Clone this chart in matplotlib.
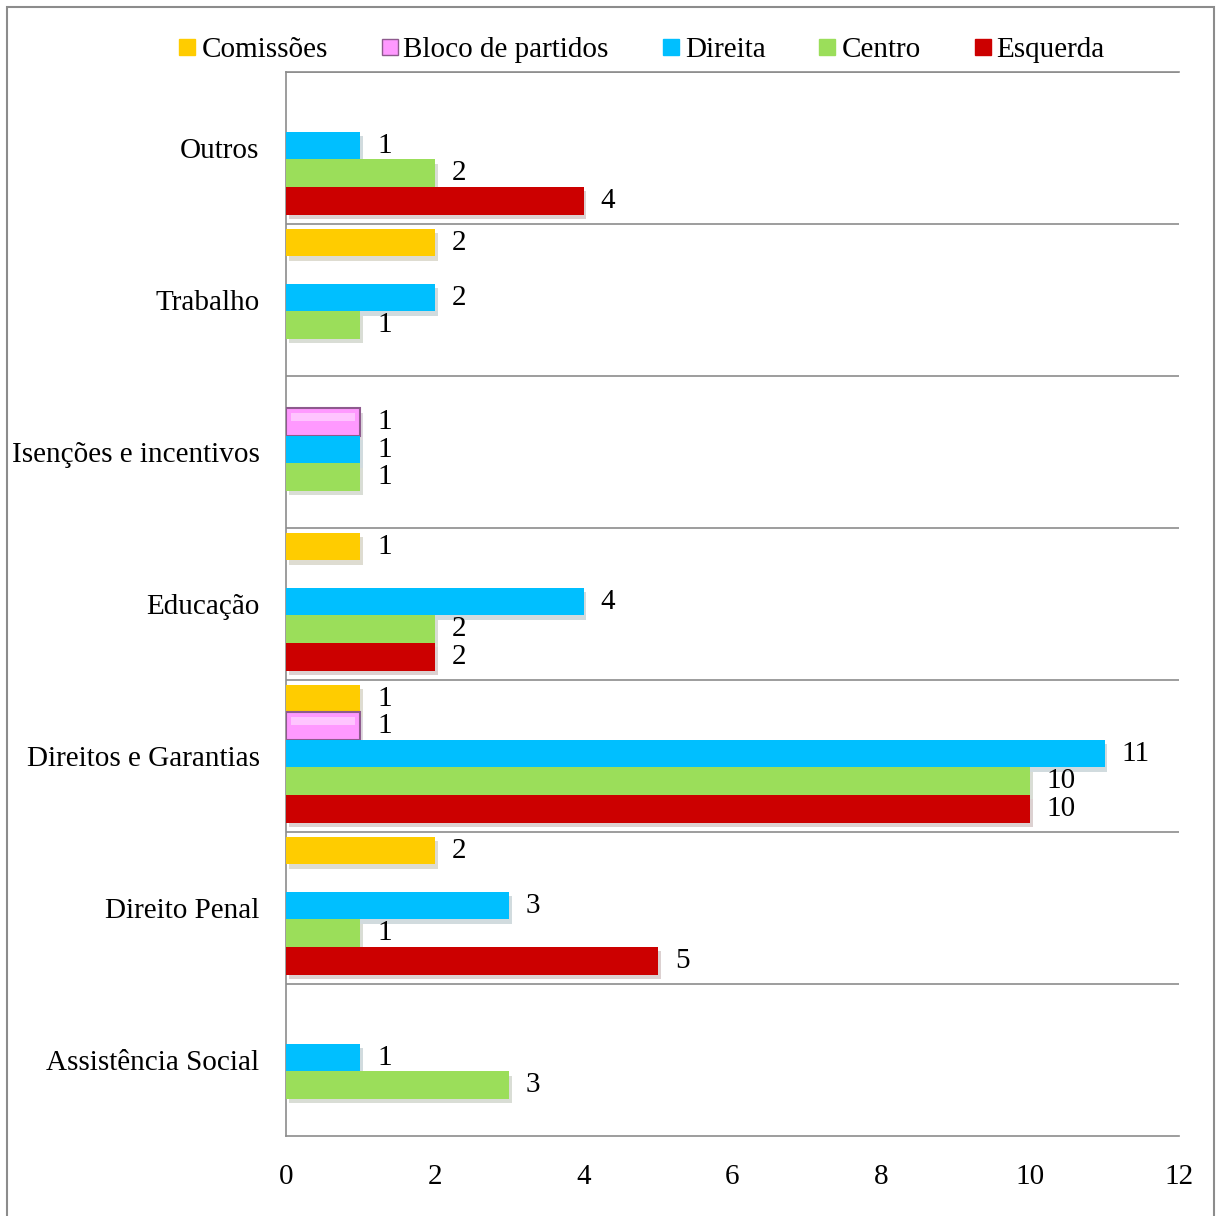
import matplotlib
matplotlib.use('Agg')
import matplotlib.pyplot as plt
import matplotlib.patheffects as pe
from matplotlib.patches import Rectangle
from matplotlib.lines import Line2D
import numpy as np

plt.rcParams['font.family'] = ['Liberation Serif', 'DejaVu Serif']

# categories from bottom to top
categories = ['Assistência Social', 'Direito Penal', 'Direitos e Garantias',
              'Educação', 'Isenções e incentivos', 'Trabalho', 'Outros']
series = ['Comissões', 'Bloco de partidos', 'Direita', 'Centro', 'Esquerda']
comissoes = [0, 2, 1, 1, 0, 2, 0]
bloco = [0, 0, 1, 0, 1, 0, 0]
direita = [1, 3, 11, 4, 1, 2, 1]
centro = [3, 1, 10, 2, 1, 1, 2]
esquerda = [0, 5, 10, 2, 0, 0, 4]
values = [comissoes, bloco, direita, centro, esquerda]
colors = ['#FFCC00', '#FF99FF', '#00BFFF', '#9BDE5A', '#CC0000']
xticks = [0, 2, 4, 6, 8, 10, 12]

fig = plt.figure(figsize=(12.16, 12.16), dpi=100)
ax = fig.add_axes([286/1216, 80/1216, 893/1216, 1064/1216])

h = 0.181
y = np.arange(len(categories))
shadow = [pe.SimplePatchShadow(offset=(2, -3), alpha=0.18), pe.Normal()]

for j, (name, vals, col) in enumerate(zip(series, values, colors)):
    off = (2 - j) * h + 0.015
    for i, v in enumerate(vals):
        if v == 0:
            continue
        if name == 'Bloco de partidos':
            b = ax.barh(y[i] + off, v, height=h, color=col,
                        edgecolor='#8E5A8E', linewidth=1.5, zorder=3)
            # soft bevel highlight
            ax.barh(y[i] + off + h * 0.18, v * 0.86, left=v * 0.07, height=h * 0.3,
                    color='#FFC4FF', linewidth=0, zorder=4)
        else:
            b = ax.barh(y[i] + off, v, height=h, color=col, linewidth=0, zorder=3)
        for p in b:
            p.set_path_effects(shadow)
        ax.annotate(str(v), (v, y[i] + off), xytext=(12, 0),
                    textcoords='offset points', ha='left', va='center',
                    fontsize=21, zorder=5)

ax.set_xlim(0, 12)
ax.set_ylim(-0.5, 6.5)
ax.set_xticks(xticks)
ax.set_xticklabels([str(t) for t in xticks])
ax.set_yticks(y)
ax.set_yticklabels(categories)
ax.tick_params(axis='both', length=0, labelsize=21)
ax.tick_params(axis='y', pad=19)
ax.tick_params(axis='x', pad=20)

for k in range(len(categories)):
    ax.axhline(k + 0.5, color='#8C8C8C', linewidth=1.2, zorder=1)
ax.spines['right'].set_visible(False)
for s in ['left', 'bottom', 'top']:
    ax.spines[s].set_color('#8C8C8C')
    ax.spines[s].set_linewidth(1.2)

handles = []
for name, col in zip(series, colors):
    ec = '#8E5A8E' if name == 'Bloco de partidos' else col
    handles.append(Line2D([], [], marker='s', linestyle='none', markersize=11,
                          markerfacecolor=col, markeredgecolor=ec))
fig.legend(handles, series, loc='center', bbox_to_anchor=(642/1216, 1 - 50/1216),
           ncol=5, frameon=False, fontsize=21, handlelength=0.55, handletextpad=0.2,
           columnspacing=1.85)

fig.patches.append(Rectangle((7/1216, -0.01), 1207/1216, 1.01 - 7/1216,
                             transform=fig.transFigure, fill=False,
                             edgecolor='#8C8C8C', linewidth=1.5))

fig.savefig('out.png', dpi=100)
